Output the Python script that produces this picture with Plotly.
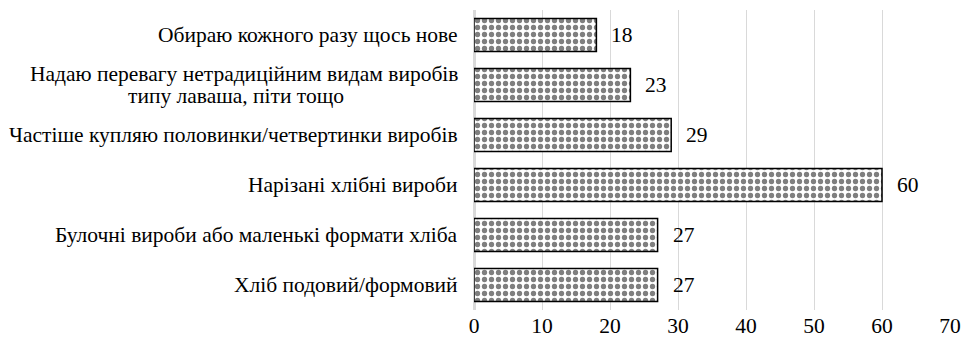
import plotly.graph_objects as go

categories = [
    "Обираю кожного разу щось нове",
    "Надаю перевагу нетрадиційним видам виробів<br>типу лаваша, піти тощо",
    "Частіше купляю половинки/четвертинки виробів",
    "Нарізані хлібні вироби",
    "Булочні вироби або маленькі формати хліба",
    "Хліб подовий/формовий",
]
values = [18, 23, 29, 60, 27, 27]
x_ticks = [0, 10, 20, 30, 40, 50, 60, 70]

FONT = "'Times New Roman', 'Liberation Serif', serif"
LABEL_SIZE = 21.5
LINE_GAP = 22        # px between lines of a wrapped category label
WRAP_CENTER = -238   # px offset (from the axis) of the centre of wrapped lines

fig = go.Figure(
    go.Bar(
        y=categories,
        x=values,
        orientation="h",
        marker=dict(
            color="white",
            line=dict(color="black", width=1.5),
            pattern=dict(shape=".", fgcolor="black", bgcolor="white",
                         size=7, solidity=0.45, fillmode="overlay"),
        ),
        hoverinfo="skip",
    )
)

# value labels to the right of each bar
for c, v in zip(categories, values):
    fig.add_annotation(x=v, y=c, text=str(v), showarrow=False,
                       xanchor="left", xshift=13,
                       font=dict(family=FONT, size=21.5, color="black"))

# category labels; wrapped ones are centred line by line with tight leading
for c in categories:
    lines = c.split("<br>")
    n = len(lines)
    for i, line in enumerate(lines):
        shift = (n - 1) / 2 * LINE_GAP - i * LINE_GAP
        first = i == 0
        fig.add_annotation(x=0, xref="paper", y=c, text=line, showarrow=False,
                           xanchor="right" if first else "center",
                           xshift=-14 if first else WRAP_CENTER, yshift=shift,
                           font=dict(family=FONT, size=LABEL_SIZE, color="black"))

fig.update_layout(
    width=980, height=347,
    margin=dict(l=474, r=30, t=10, b=37),
    paper_bgcolor="white", plot_bgcolor="white",
    bargap=0.34,
    showlegend=False,
    font=dict(family=FONT, color="black"),
)
fig.update_xaxes(range=[0, 70], tickvals=x_ticks, showgrid=True,
                 gridcolor="#d9d9d9", gridwidth=1, zeroline=True,
                 zerolinecolor="#d9d9d9", zerolinewidth=3,
                 tickfont=dict(family=FONT, size=21.5, color="black"),
                 ticks="", showline=False)
fig.update_yaxes(autorange="reversed", showticklabels=False,
                 showgrid=False, zeroline=False, showline=False, ticks="")

fig.write_html("out.html")
